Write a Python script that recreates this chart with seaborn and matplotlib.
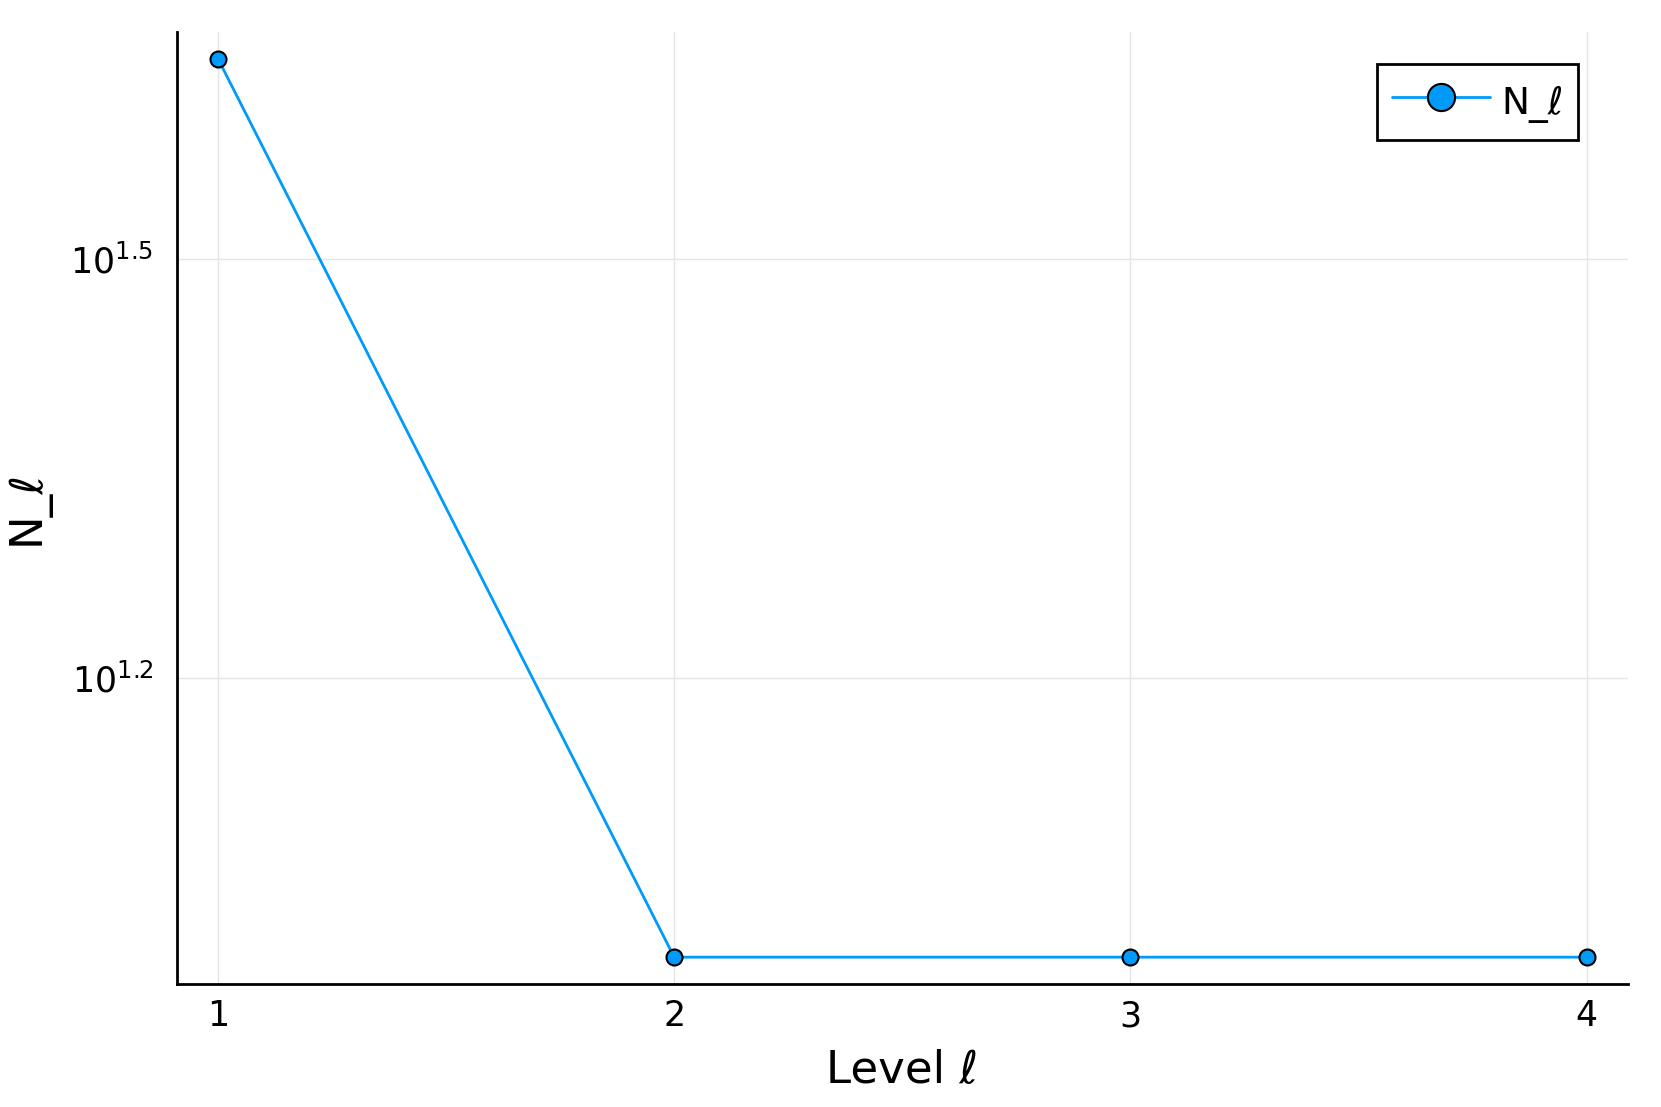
import numpy as np
import pandas as pd
import seaborn as sns
import matplotlib
matplotlib.use("Agg")
import matplotlib.pyplot as plt
from matplotlib.ticker import FixedLocator, NullLocator

# samples per level
levels = [1, 2, 3, 4]
n_samples = [44, 10, 10, 10]
ytick_exps = [1.2, 1.5]

df = pd.DataFrame({"level": levels, "N": n_samples})

sns.set_style("white")
plt.rcParams["font.family"] = ["DejaVu Sans"]
plt.rcParams["text.color"] = "black"
plt.rcParams["axes.labelcolor"] = "black"

fig = plt.figure(figsize=(16.61, 11.07), dpi=100)
ax = fig.add_axes([0.1065, 0.111, 0.8735, 0.8603])

sns.lineplot(data=df, x="level", y="N", ax=ax, color="#009AFA", linewidth=2,
             marker="o", markersize=11.5, markerfacecolor="#009AFA",
             markeredgecolor="black", markeredgewidth=1.5, label="N_ℓ")

ax.set_yscale("log")
lo, hi = np.log10(min(n_samples)), np.log10(max(n_samples))
pad = 0.03 * (hi - lo)
ax.set_ylim(10 ** (lo - pad), 10 ** (hi + pad))
ax.set_xlim(min(levels) - 0.09, max(levels) + 0.09)

ax.yaxis.set_major_locator(FixedLocator([10 ** e for e in ytick_exps]))
ax.yaxis.set_minor_locator(NullLocator())
ax.set_yticklabels([f"$10^{{{e}}}$" for e in ytick_exps])
ax.set_xticks(levels)
ax.set_xticklabels([str(l) for l in levels])

ax.grid(True, color="#e5e5e5", linewidth=1)
for side in ["top", "right"]:
    ax.spines[side].set_visible(False)
for side in ["left", "bottom"]:
    ax.spines[side].set_color("black")
    ax.spines[side].set_linewidth(2)
ax.tick_params(direction="in", length=10, width=1.8, labelsize=25,
               colors="black")
ax.tick_params(axis="x", pad=11)
ax.tick_params(axis="y", pad=17)

#label the graph
ax.set_xlabel("Level ℓ", fontsize=32.5, labelpad=11)
ax.set_ylabel("N_ℓ", fontsize=32.5, labelpad=15)

leg = ax.legend(loc="upper right", bbox_to_anchor=(0.966, 0.966), borderaxespad=0,
                fontsize=27, fancybox=False, framealpha=1, edgecolor="black",
                markerscale=1.7, handlelength=2.6, handleheight=1.5,
                handletextpad=0.3, borderpad=0.4)
leg.get_frame().set_linewidth(2)

fig.savefig("out.png", dpi=100)
